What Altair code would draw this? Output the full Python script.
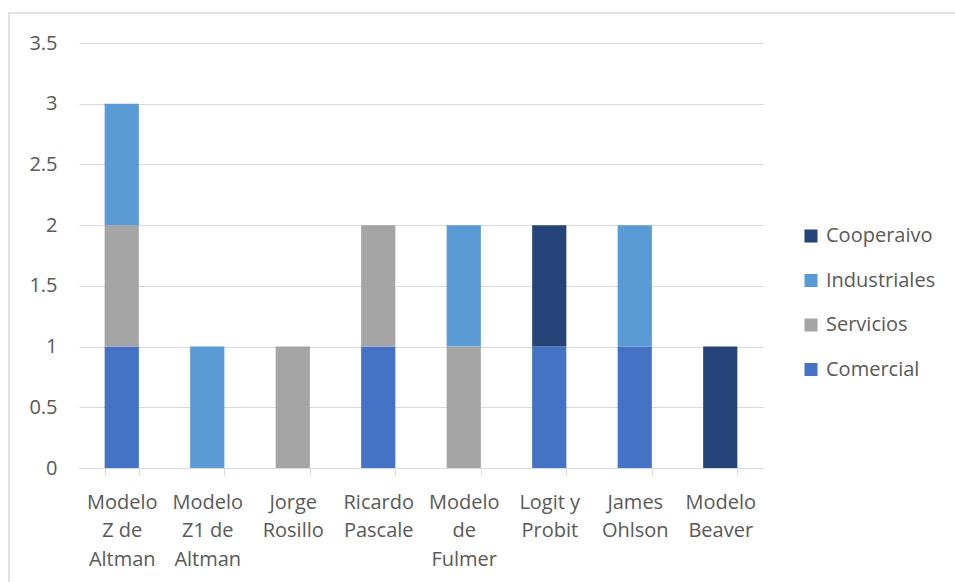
import altair as alt
import pandas as pd

categories = ["Modelo|Z de|Altman", "Modelo|Z1 de|Altman", "Jorge|Rosillo", "Ricardo|Pascale",
              "Modelo|de|Fulmer", "Logit y|Probit", "James|Ohlson", "Modelo|Beaver"]
series = ["Comercial", "Servicios", "Industriales", "Cooperaivo"]
comercial =    [1, 0, 0, 1, 0, 1, 1, 0]
servicios =    [1, 0, 1, 1, 1, 0, 0, 0]
industriales = [1, 1, 0, 0, 1, 0, 1, 0]
cooperaivo =   [0, 0, 0, 0, 0, 1, 0, 1]
colors = ["#4472C4", "#A5A5A5", "#5B9BD5", "#264478"]
legend_order = ["Cooperaivo", "Industriales", "Servicios", "Comercial"]

rows = []
for s_i, (name, vals) in enumerate(zip(series, [comercial, servicios, industriales, cooperaivo])):
    for c, v in zip(categories, vals):
        if v:
            rows.append({"cat": c, "serie": name, "val": v, "ord": s_i})
df = pd.DataFrame(rows)

FONT = "Open Sans"
TXT = "#595959"

bars = alt.Chart(df).mark_bar().encode(
    x=alt.X("cat:N", sort=categories, title=None,
            scale=alt.Scale(paddingInner=0.6, paddingOuter=0.3),
            axis=alt.Axis(labelAngle=0, labelExpr="split(datum.label, '|')",
                          labelLineHeight=28.5, labelFontSize=20, labelColor=TXT, labelFont=FONT,
                          labelPadding=17, domainColor="#d9d9d9", tickColor="#d9d9d9",
                          tickSize=7, tickBand="extent", labelBaseline="top")),
    y=alt.Y("val:Q", stack="zero", title=None,
            scale=alt.Scale(domain=[0, 3.5]),
            axis=alt.Axis(values=[0, 0.5, 1, 1.5, 2, 2.5, 3, 3.5], format="~g",
                          domain=False, ticks=False, gridColor="#d9d9d9", labelFontSize=20,
                          labelColor=TXT, labelFont=FONT, labelPadding=22)),
    color=alt.Color("serie:N", scale=alt.Scale(domain=series, range=colors),
                    sort=legend_order,
                    legend=alt.Legend(title=None, orient="none", legendX=722, legendY=183,
                                      symbolType="square", symbolSize=170, labelFontSize=20,
                                      labelColor=TXT, labelFont=FONT, rowPadding=24.5,
                                      symbolStrokeWidth=0, labelOffset=5, values=legend_order)),
    order=alt.Order("ord:Q", sort="ascending"),
)

frame = alt.Chart(alt.Data(values=[{}])).mark_rect(fill=None, stroke="#d9d9d9", strokeWidth=1.5).encode(
    x=alt.value(-70), x2=alt.value(950), y=alt.value(-30), y2=alt.value(650)
)

chart = alt.layer(frame, bars).properties(
    width=684, height=425,
    autosize=alt.AutoSizeParams(type="none"),
    padding={"left": 79, "top": 43, "right": 192, "bottom": 114},
).configure_view(stroke=None)

chart.save("out.html", embed_options={"renderer": "svg", "actions": False})
